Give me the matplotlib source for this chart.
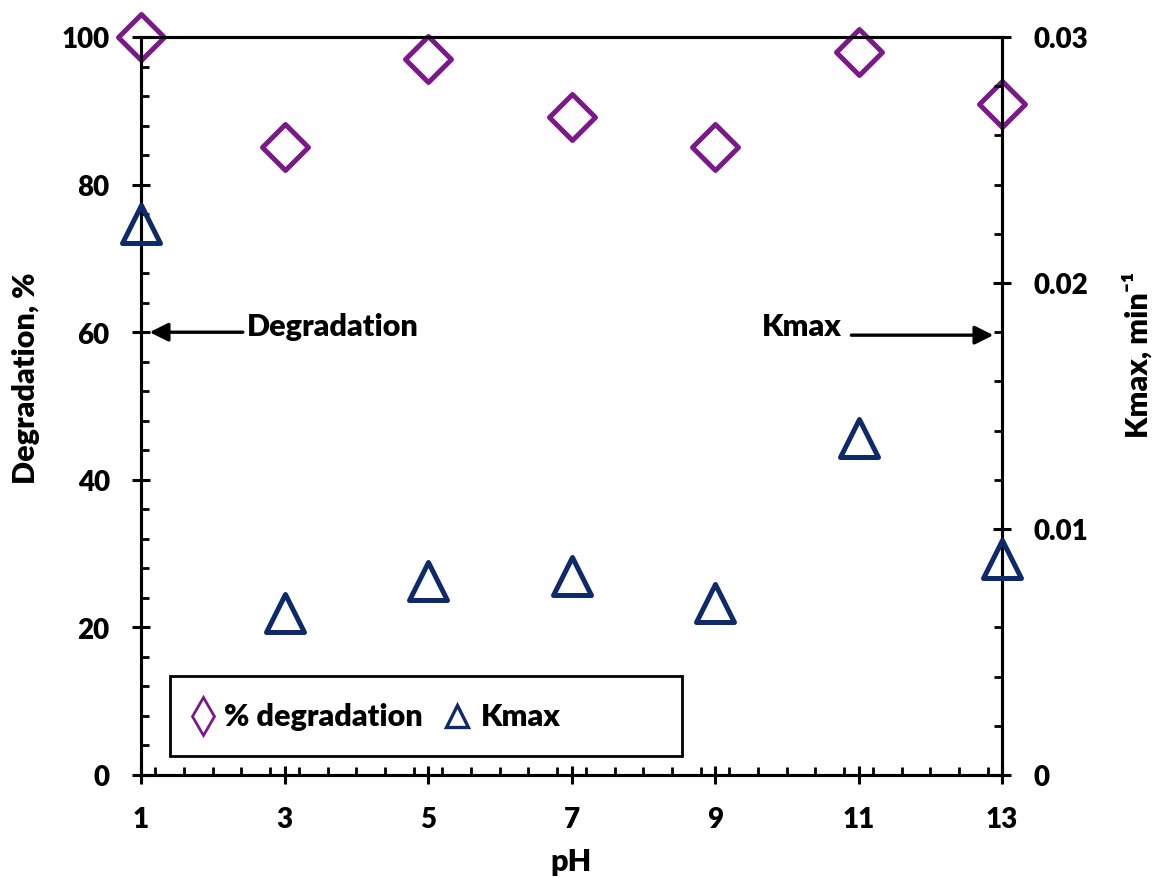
import matplotlib
matplotlib.use("Agg")
import matplotlib.pyplot as plt
from matplotlib.markers import MarkerStyle
from matplotlib.patches import Rectangle
from matplotlib.ticker import MultipleLocator

# pH sweep: % degradation (left axis) and Kmax (right axis)
ph = [1, 3, 5, 7, 9, 11, 13]
degradation = [100.0, 85.1, 97.0, 89.2, 85.1, 98.0, 90.9]
kmax = [0.0224, 0.0066, 0.0079, 0.0081, 0.0070, 0.0137, 0.0088]

x_ticks = [1, 3, 5, 7, 9, 11, 13]
left_ticks = [0, 20, 40, 60, 80, 100]
right_ticks = [0, 0.01, 0.02, 0.03]
right_labels = ["0", "0.01", "0.02", "0.03"]

PURPLE = "#7a1a88"
NAVY = "#0f2a6b"

plt.rcParams["font.family"] = ["Lato", "DejaVu Sans"]
plt.rcParams["font.weight"] = "heavy"
FS = 20     # tick labels
TFS = 22    # titles, notes, legend
W = "heavy"

W_PX, H_PX = 1156, 879
fig = plt.figure(figsize=(W_PX / 100, H_PX / 100), dpi=100)
ax = fig.add_axes([141 / W_PX, 1 - 776 / H_PX, 861 / W_PX, 738 / H_PX])
ax2 = ax.twinx()

ax.plot(ph, degradation, ls="none",
        marker=MarkerStyle("D", joinstyle="round"), ms=23.5, mew=3.6,
        mec=PURPLE, mfc="none", clip_on=False, zorder=5)
ax2.plot(ph, kmax, ls="none",
         marker=MarkerStyle("^", joinstyle="round"), ms=27, mew=3.6,
         mec=NAVY, mfc="none", clip_on=False, zorder=5)

ax.set_xlim(1, 13)
ax.set_ylim(0, 100)
ax2.set_ylim(0, 0.03)

ax.set_xticks(x_ticks)
ax.set_yticks(left_ticks)
ax2.set_yticks(right_ticks)
ax2.set_yticklabels(right_labels)
ax.xaxis.set_minor_locator(MultipleLocator(0.4))
ax.yaxis.set_minor_locator(MultipleLocator(4))
ax2.yaxis.set_minor_locator(MultipleLocator(0.002))

for a in (ax, ax2):
    for s in a.spines.values():
        s.set_linewidth(2.2)
    a.tick_params(which="major", direction="inout", length=13, width=2.2,
                  labelsize=FS, pad=16)
    a.tick_params(which="minor", direction="in", length=6, width=2.0)
ax.tick_params(axis="y", which="both", right=False)
ax.tick_params(axis="x", which="both", top=False)
ax2.tick_params(axis="y", which="both", left=False)

for lab in ax.get_xticklabels() + ax.get_yticklabels() + ax2.get_yticklabels():
    lab.set_fontweight(W)

# axis titles
fig.text(26 / W_PX, 1 - 378 / H_PX, "Degradation, %", rotation=90,
         ha="center", va="center", fontsize=TFS, fontweight=W)
fig.text(1137 / W_PX, 1 - 355 / H_PX, "Kmax, min\u207b\u00b9", rotation=90,
         ha="center", va="center", fontsize=TFS, fontweight=W,
         family=["Lato", "DejaVu Sans"])
fig.text(571 / W_PX, 1 - 862 / H_PX, "pH", ha="center", va="center",
         fontsize=TFS, fontweight=W)

# arrows pointing each series to its axis
arrow = dict(arrowstyle="-|>", mutation_scale=28, lw=2.4, color="black",
             shrinkA=0, shrinkB=0)
ax.annotate("", xy=(1.12, 60), xytext=(2.42, 60), arrowprops=arrow,
            annotation_clip=False)
ax.text(2.47, 60.8, "Degradation", ha="left", va="center",
        fontsize=TFS, fontweight=W)
ax.annotate("", xy=(12.88, 59.6), xytext=(10.9, 59.6), arrowprops=arrow,
            annotation_clip=False)
ax.text(9.66, 60.8, "Kmax", ha="left", va="center",
        fontsize=TFS, fontweight=W)

# legend box, drawn in axes fractions
def ax_x(px):
    return (px - 141) / 861


def ax_y(py):
    return (776 - py) / 738


ax2.add_patch(Rectangle((ax_x(170), ax_y(757)), ax_x(682) - ax_x(170),
                        ax_y(677) - ax_y(757), transform=ax2.transAxes,
                        fc="white", ec="black", lw=2.0, zorder=6))
ly = ax_y(717)
ax2.plot([ax_x(203)], [ly], transform=ax2.transAxes, ls="none", marker="d",
         ms=19, mew=2.0, mec=PURPLE, mfc="none", zorder=7)
ax2.text(ax_x(224), ly, "% degradation", transform=ax2.transAxes,
         ha="left", va="center", fontsize=TFS, fontweight=W, zorder=7)
ax2.plot([ax_x(457)], [ly], transform=ax2.transAxes, ls="none", marker="^",
         ms=16, mew=2.4, mec=NAVY, mfc="none", zorder=7)
ax2.text(ax_x(481), ly, "Kmax", transform=ax2.transAxes,
         ha="left", va="center", fontsize=TFS, fontweight=W, zorder=7)

fig.savefig("out.png", dpi=100)
